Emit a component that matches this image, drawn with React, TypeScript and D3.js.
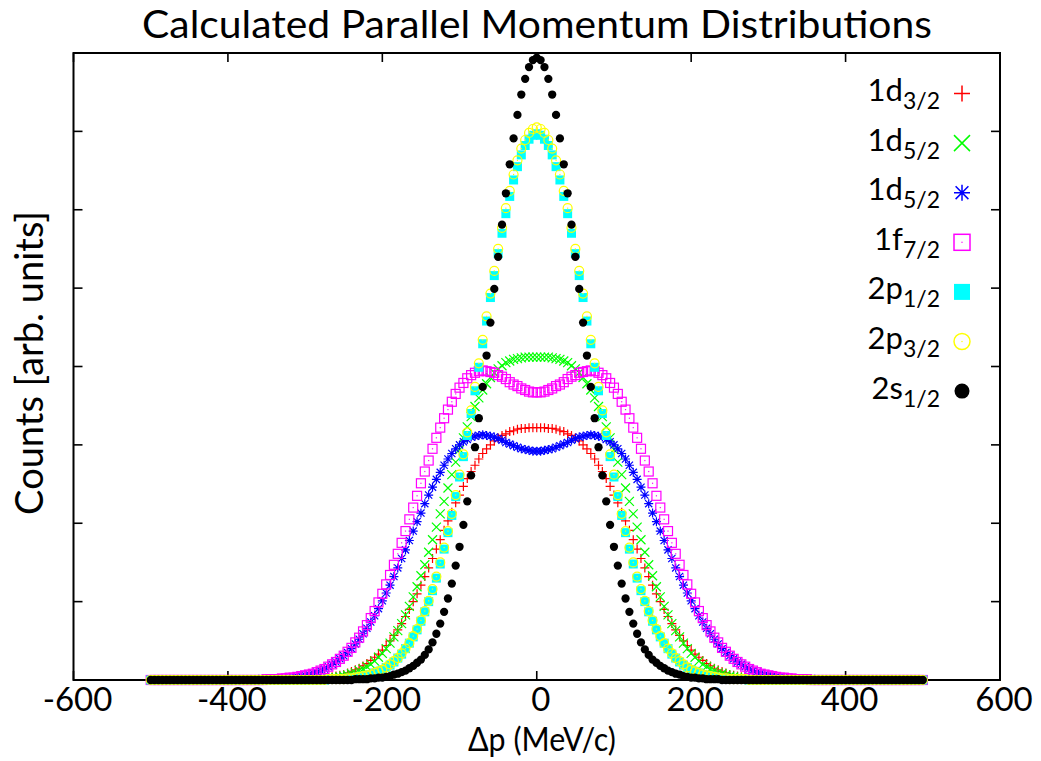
import React from 'react';
import * as d3 from 'd3';

// Parallel momentum grid (MeV/c), sampled every 5 MeV/c from -500 to 500
const momentum: number[] = d3.range(-500, 505, 5);

// Counts [arb. units] for each orbital, one value per momentum sample
const d32: number[] = [
0,0,0,0,0,0,0,0,0,0,0,0,0,0,0,0,0,0,0,0,0,0,0,0,0,0,0,0,0,0,0,0,0,0,0,0,0,0,
0.01,0.01,0.01,0.01,0.01,0.02,0.02,0.03,0.03,0.04,0.05,0.06,0.07,0.09,0.11,0.13,0.15,0.18,0.21,0.25,0.29,0.33,
0.38,0.44,0.50,0.57,0.64,0.72,0.81,0.90,1.00,1.10,1.21,1.32,1.43,1.55,1.67,1.79,1.91,2.03,2.14,2.26,
2.36,2.47,2.57,2.66,2.74,2.82,2.89,2.95,3.00,3.05,3.09,3.12,3.14,3.17,3.18,3.20,3.21,3.21,3.22,3.22,
3.22,
3.22,3.22,3.21,3.21,3.20,3.18,3.17,3.14,3.12,3.09,3.05,3.00,2.95,2.89,2.82,2.74,2.66,2.57,2.47,2.36,
2.26,2.14,2.03,1.91,1.79,1.67,1.55,1.43,1.32,1.21,1.10,1.00,0.90,0.81,0.72,0.64,0.57,0.50,0.44,0.38,
0.33,0.29,0.25,0.21,0.18,0.15,0.13,0.11,0.09,0.07,0.06,0.05,0.04,0.03,0.03,0.02,0.02,0.01,0.01,0.01,0.01,0.01,
0,0,0,0,0,0,0,0,0,0,0,0,0,0,0,0,0,0,0,0,0,0,0,0,0,0,0,0,0,0,0,0,0,0,0,0,0,0
];

const d52x: number[] = [
0,0,0,0,0,0,0,0,0,0,0,0,0,0,0,0,0,0,0,0,0,0,0,0,0,0,0,0,0,0,0,0,0,0,0,0,0,0,0,0,0,
0.01,0.01,0.01,0.01,0.02,0.02,0.03,0.03,0.04,
0.05,0.06,0.08,0.09,0.12,0.14,0.17,0.20,0.24,0.29,0.34,0.40,0.47,0.55,0.63,0.72,0.83,0.94,1.06,1.19,
1.33,1.47,1.63,1.79,1.95,2.12,2.28,2.45,2.62,2.78,2.94,3.09,3.23,3.36,3.49,3.60,3.70,3.78,3.86,3.92,
3.97,4.01,4.05,4.07,4.09,4.10,4.11,4.12,4.12,4.12,
4.12,
4.12,4.12,4.12,4.11,4.10,4.09,4.07,4.05,4.01,3.97,3.92,3.86,3.78,3.70,3.60,3.49,3.36,3.23,3.09,2.94,
2.78,2.62,2.45,2.28,2.12,1.95,1.79,1.63,1.47,1.33,1.19,1.06,0.94,0.83,0.72,0.63,0.55,0.47,0.40,0.34,
0.29,0.24,0.20,0.17,0.14,0.12,0.09,0.08,0.06,0.05,0.04,0.03,0.03,0.02,0.02,0.01,0.01,0.01,0.01,
0,0,0,0,0,0,0,0,0,0,0,0,0,0,0,0,0,0,0,0,0,0,0,0,0,0,0,0,0,0,0,0,0,0,0,0,0,0,0,0,0
];

const d52s: number[] = [
0,0,0,0,0,0,0,0,0,0,0,0,0,0,0,0,0,0,0,0,0,0,0,0,0,0,0,0,
0.01,0.01,0.01,0.01,0.01,0.02,0.02,0.02,0.03,0.03,0.04,0.05,0.06,0.07,0.09,0.10,0.12,0.14,0.17,0.20,0.23,0.27,
0.31,0.35,0.40,0.46,0.52,0.59,0.66,0.74,0.82,0.91,1.01,1.11,1.21,1.32,1.43,1.55,1.66,1.78,1.90,2.02,
2.13,2.25,2.36,2.46,2.56,2.65,2.74,2.82,2.89,2.95,3.00,3.04,3.07,3.10,3.11,3.12,3.13,3.12,3.11,3.10,
3.08,3.06,3.03,3.01,2.99,2.97,2.95,2.94,2.93,2.92,
2.92,
2.92,2.93,2.94,2.95,2.97,2.99,3.01,3.03,3.06,3.08,3.10,3.11,3.12,3.13,3.12,3.11,3.10,3.07,3.04,3.00,
2.95,2.89,2.82,2.74,2.65,2.56,2.46,2.36,2.25,2.13,2.02,1.90,1.78,1.66,1.55,1.43,1.32,1.21,1.11,1.01,
0.91,0.82,0.74,0.66,0.59,0.52,0.46,0.40,0.35,0.31,0.27,0.23,0.20,0.17,0.14,0.12,0.10,0.09,0.07,0.06,
0.05,0.04,0.03,0.03,0.02,0.02,0.02,0.01,0.01,0.01,0.01,0.01,
0,0,0,0,0,0,0,0,0,0,0,0,0,0,0,0,0,0,0,0,0,0,0,0,0,0,0,0
];

const f72: number[] = [
0,0,0,0,0,0,0,0,0,0,0,0,0,0,0,0,0,0,0,0,0,0,0,0,0,0,0,0,0,0,
0.01,0.01,0.01,0.01,0.02,0.02,0.03,0.03,0.04,0.05,0.06,0.07,0.08,0.10,0.12,0.14,0.17,0.20,0.23,0.27,
0.31,0.36,0.41,0.48,0.54,0.62,0.70,0.79,0.88,0.99,1.10,1.22,1.34,1.47,1.61,1.75,1.90,2.05,2.20,2.35,
2.51,2.66,2.80,2.95,3.09,3.22,3.34,3.45,3.55,3.65,3.73,3.79,3.85,3.89,3.92,3.94,3.95,3.94,3.93,3.92,
3.89,3.87,3.84,3.80,3.77,3.75,3.72,3.70,3.68,3.67,
3.67,
3.67,3.68,3.70,3.72,3.75,3.77,3.80,3.84,3.87,3.89,3.92,3.93,3.94,3.95,3.94,3.92,3.89,3.85,3.79,3.73,
3.65,3.55,3.45,3.34,3.22,3.09,2.95,2.80,2.66,2.51,2.35,2.20,2.05,1.90,1.75,1.61,1.47,1.34,1.22,1.10,
0.99,0.88,0.79,0.70,0.62,0.54,0.48,0.41,0.36,0.31,0.27,0.23,0.20,0.17,0.14,0.12,0.10,0.08,0.07,0.06,
0.05,0.04,0.03,0.03,0.02,0.02,0.01,0.01,0.01,0.01,
0,0,0,0,0,0,0,0,0,0,0,0,0,0,0,0,0,0,0,0,0,0,0,0,0,0,0,0,0,0
];

const p12: number[] = [
0,0,0,0,0,0,0,0,0,0,0,0,0,0,0,0,0,0,0,0,0,0,0,0,0,0,0,0,0,0,0,0,0,0,0,0,0,0,0,0,0,0,0,0,0,0,
0.01,0.01,0.01,0.01,0.01,0.02,0.02,0.03,0.04,0.05,0.06,0.07,0.09,0.11,
0.13,0.16,0.19,0.23,0.28,0.33,0.40,0.47,0.55,0.64,0.75,0.87,1.00,1.14,1.30,1.48,1.67,1.88,2.10,2.34,
2.59,2.85,3.12,3.40,3.69,3.99,4.29,4.58,4.88,5.16,5.44,5.70,5.95,6.17,6.38,6.55,6.70,6.82,6.90,6.95,
6.97,
6.95,6.90,6.82,6.70,6.55,6.38,6.17,5.95,5.70,5.44,5.16,4.88,4.58,4.29,3.99,3.69,3.40,3.12,2.85,2.59,
2.34,2.10,1.88,1.67,1.48,1.30,1.14,1.00,0.87,0.75,0.64,0.55,0.47,0.40,0.33,0.28,0.23,0.19,0.16,0.13,
0.11,0.09,0.07,0.06,0.05,0.04,0.03,0.02,0.02,0.01,0.01,0.01,0.01,0.01,
0,0,0,0,0,0,0,0,0,0,0,0,0,0,0,0,0,0,0,0,0,0,0,0,0,0,0,0,0,0,0,0,0,0,0,0,0,0,0,0,0,0,0,0,0,0
];

const p32: number[] = [
0,0,0,0,0,0,0,0,0,0,0,0,0,0,0,0,0,0,0,0,0,0,0,0,0,0,0,0,0,0,0,0,0,0,0,0,0,0,0,0,0,0,0,0,0,0,
0.01,0.01,0.01,0.01,0.01,0.02,0.02,0.03,0.04,0.05,0.06,0.07,0.09,0.11,
0.13,0.16,0.20,0.24,0.28,0.34,0.40,0.47,0.56,0.65,0.76,0.88,1.01,1.16,1.32,1.50,1.69,1.90,2.12,2.36,
2.62,2.88,3.16,3.44,3.74,4.04,4.34,4.64,4.93,5.22,5.50,5.77,6.02,6.24,6.45,6.63,6.78,6.89,6.98,7.03,
7.05,
7.03,6.98,6.89,6.78,6.63,6.45,6.24,6.02,5.77,5.50,5.22,4.93,4.64,4.34,4.04,3.74,3.44,3.16,2.88,2.62,
2.36,2.12,1.90,1.69,1.50,1.32,1.16,1.01,0.88,0.76,0.65,0.56,0.47,0.40,0.34,0.28,0.24,0.20,0.16,0.13,
0.11,0.09,0.07,0.06,0.05,0.04,0.03,0.02,0.02,0.01,0.01,0.01,0.01,0.01,
0,0,0,0,0,0,0,0,0,0,0,0,0,0,0,0,0,0,0,0,0,0,0,0,0,0,0,0,0,0,0,0,0,0,0,0,0,0,0,0,0,0,0,0,0,0
];

const s12: number[] = [
0,0,0,0,0,0,0,0,0,0,0,0,0,0,0,0,0,0,0,0,0,0,0,0,0,0,0,0,0,0,0,0,0,0,0,0,0,0,0,0,0,0,0,0,0,0,0,0,0,0,0,0,0,
0.01,0.01,0.01,0.01,0.02,0.02,0.03,0.03,0.04,0.05,0.07,0.08,0.10,0.12,0.15,0.18,0.22,0.26,0.32,0.39,
0.48,0.59,0.72,0.87,1.04,1.23,1.46,1.70,1.98,2.28,2.61,2.97,3.34,3.74,4.14,4.56,4.99,5.40,5.81,6.21,
6.58,6.91,7.21,7.47,7.67,7.82,7.91,
7.94,
7.91,7.82,7.67,7.47,7.21,6.91,6.58,6.21,5.81,5.40,4.99,4.56,4.14,3.74,3.34,2.97,2.61,2.28,1.98,1.70,
1.46,1.23,1.04,0.87,0.72,0.59,0.48,0.39,0.32,0.26,0.22,0.18,0.15,0.12,0.10,0.08,0.07,0.05,0.04,0.03,
0.03,0.02,0.02,0.01,0.01,0.01,0.01,
0,0,0,0,0,0,0,0,0,0,0,0,0,0,0,0,0,0,0,0,0,0,0,0,0,0,0,0,0,0,0,0,0,0,0,0,0,0,0,0,0,0,0,0,0,0,0,0,0,0,0,0,0
];

const legendMain = ['1d', '1d', '1d', '1f', '2p', '2p', '2s'];
const legendSub = ['3/2', '5/2', '5/2', '7/2', '1/2', '3/2', '1/2'];
const colors = ['#ff0000', '#00ff00', '#0000ff', '#ff00ff', '#00ffff', '#ffff00', '#000000'];
const markers = ['plus', 'cross', 'star', 'openSquare', 'fillSquare', 'openCircle', 'fillCircle'];
const seriesValues = [d32, d52x, d52s, f72, p12, p32, s12];

const xTicks = [-600, -400, -200, 0, 200, 400, 600];
const yTicks = [0, 1, 2, 3, 4, 5, 6, 7, 8];

const FONT = 'Lato, "Open Sans", sans-serif';

function Marker({ type, cx, cy, h, color, sw }: { type: string; cx: number; cy: number; h: number; color: string; sw: number }) {
  const plus = `M${cx - h},${cy}H${cx + h}M${cx},${cy - h}V${cy + h}`;
  const cross = `M${cx - h},${cy - h}L${cx + h},${cy + h}M${cx - h},${cy + h}L${cx + h},${cy - h}`;
  switch (type) {
    case 'plus':
      return <path d={plus} stroke={color} strokeWidth={sw} fill="none" />;
    case 'cross':
      return <path d={cross} stroke={color} strokeWidth={sw} fill="none" />;
    case 'star': {
      const hd = h * 0.8;
      const c2 = `M${cx - hd},${cy - hd}L${cx + hd},${cy + hd}M${cx - hd},${cy + hd}L${cx + hd},${cy - hd}`;
      return <path d={plus + c2} stroke={color} strokeWidth={sw} fill="none" />;
    }
    case 'openSquare':
      return (
        <g>
          <rect x={cx - h} y={cy - h} width={2 * h} height={2 * h} stroke={color} strokeWidth={sw} fill="none" />
          <rect x={cx - 0.6} y={cy - 0.6} width={1.2} height={1.2} fill={color} />
        </g>
      );
    case 'fillSquare':
      return <rect x={cx - h} y={cy - h} width={2 * h} height={2 * h} fill={color} />;
    case 'openCircle':
      return (
        <g>
          <circle cx={cx} cy={cy} r={h} stroke={color} strokeWidth={sw} fill="none" />
          <rect x={cx - 0.6} y={cy - 0.6} width={1.2} height={1.2} fill={color} />
        </g>
      );
    default:
      return <circle cx={cx} cy={cy} r={h * 0.94} fill={color} />;
  }
}

export default function App() {
  const W = 1041;
  const H = 761;
  const left = 73.5, right = 1000, top = 53, bottom = 680;
  const x = d3.scaleLinear().domain([-600, 600]).range([left, right]);
  const y = d3.scaleLinear().domain([0, 8]).range([bottom, top]);
  const tickLen = 9;

  const legendX = 962;
  const legendY0 = 93.5;
  const legendDY = 49.6;

  return (
    <svg width={W} height={H} style={{ position: 'absolute', left: 0, top: 0, background: '#fff' }} fontFamily={FONT}>
      <rect x={0} y={0} width={W} height={H} fill="#fff" />
      {/* title */}
      <text transform="translate(537,37.5) scale(1.075,1)" x={0} y={0} textAnchor="middle" fontSize={38} fill="#000">Calculated Parallel Momentum Distributions</text>

      {/* frame */}
      <rect x={left} y={top} width={right - left} height={bottom - top} fill="none" stroke="#000" strokeWidth={2} />
      {xTicks.map((t) => (
        <g key={'xt' + t}>
          <line x1={x(t)} x2={x(t)} y1={bottom} y2={bottom - tickLen} stroke="#000" strokeWidth={1.6} />
          <line x1={x(t)} x2={x(t)} y1={top} y2={top + tickLen} stroke="#000" strokeWidth={1.6} />
          <text x={x(t) + 4} y={711} textAnchor="middle" fontSize={33} fill="#000">{t}</text>
        </g>
      ))}
      {yTicks.map((t) => (
        <g key={'yt' + t}>
          <line x1={left} x2={left + tickLen} y1={y(t)} y2={y(t)} stroke="#000" strokeWidth={1.6} />
          <line x1={right} x2={right - tickLen} y1={y(t)} y2={y(t)} stroke="#000" strokeWidth={1.6} />
        </g>
      ))}

      {/* axis labels */}
      <text transform="translate(542,751) scale(0.92,1)" x={0} y={0} textAnchor="middle" fontSize={33} fill="#000">Δp (MeV/c)</text>
      <text transform={`translate(43,${363}) rotate(-90)`} textAnchor="middle" fontSize={38} fill="#000">Counts [arb. units]</text>

      {/* data */}
      {seriesValues.map((vals, si) => (
        <g key={'s' + si}>
          {vals.map((v, i) => (
            <Marker key={i} type={markers[si]} cx={x(momentum[i])} cy={y(v)} h={si === 6 ? 4.4 : 4.5} color={colors[si]} sw={1.2} />
          ))}
        </g>
      ))}

      {/* legend */}
      {legendMain.map((m, i) => {
        const ly = legendY0 + i * legendDY;
        return (
          <g key={'lg' + i}>
            <text x={940} y={ly + 7.5} textAnchor="end" fontSize={31} fill="#000">
              {m}
              <tspan fontSize={23} dy={8}>{legendSub[i]}</tspan>
            </text>
            <Marker type={markers[i]} cx={legendX} cy={ly} h={8} color={colors[i]} sw={1.5} />
          </g>
        );
      })}
    </svg>
  );
}
